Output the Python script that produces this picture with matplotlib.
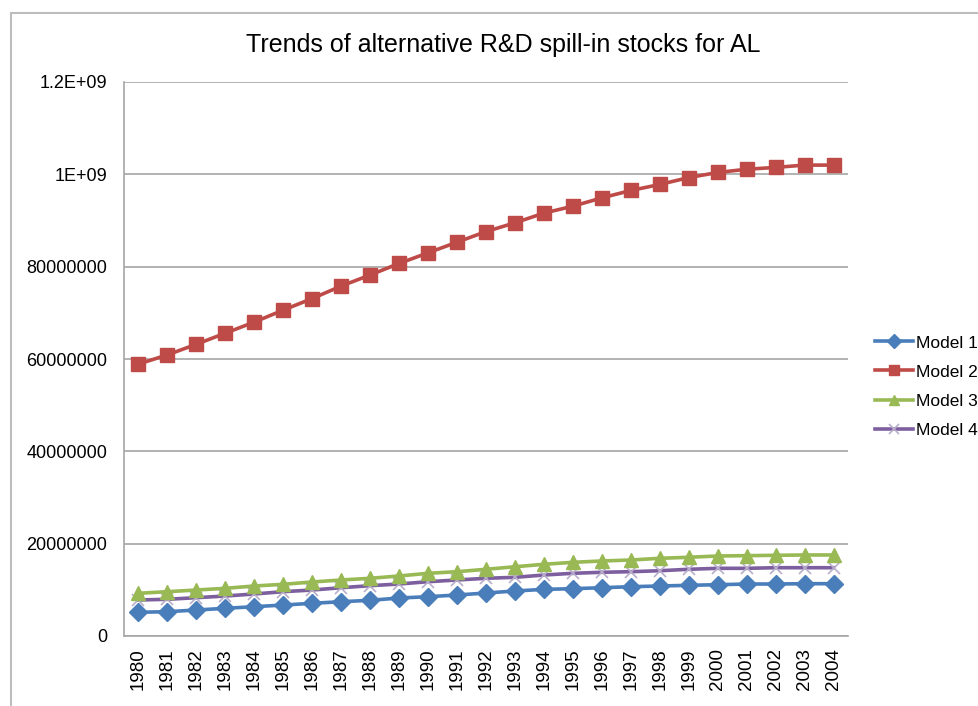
import matplotlib
matplotlib.use("Agg")
import matplotlib.pyplot as plt
from matplotlib.patches import Rectangle

years = [str(y) for y in range(1980, 2005)]

model1 = [5.13e7, 5.27e7, 5.63e7, 6.00e7, 6.35e7, 6.71e7, 7.08e7, 7.43e7, 7.73e7, 8.23e7,
          8.51e7, 8.88e7, 9.31e7, 9.75e7, 1.010e8, 1.025e8, 1.046e8, 1.068e8, 1.083e8, 1.098e8,
          1.111e8, 1.126e8, 1.126e8, 1.133e8, 1.133e8]
model2 = [5.89e8, 6.09e8, 6.32e8, 6.56e8, 6.80e8, 7.06e8, 7.31e8, 7.58e8, 7.82e8, 8.07e8,
          8.30e8, 8.53e8, 8.76e8, 8.95e8, 9.16e8, 9.31e8, 9.49e8, 9.65e8, 9.78e8, 9.93e8,
          1.004e9, 1.011e9, 1.015e9, 1.020e9, 1.020e9]
model3 = [9.25e7, 9.60e7, 9.96e7, 1.033e8, 1.083e8, 1.120e8, 1.170e8, 1.213e8, 1.250e8, 1.300e8,
          1.358e8, 1.393e8, 1.445e8, 1.500e8, 1.553e8, 1.596e8, 1.625e8, 1.646e8, 1.683e8, 1.705e8,
          1.733e8, 1.740e8, 1.748e8, 1.755e8, 1.755e8]
model4 = [7.80e7, 7.95e7, 8.30e7, 8.66e7, 9.10e7, 9.60e7, 9.96e7, 1.046e8, 1.090e8, 1.126e8,
          1.176e8, 1.213e8, 1.250e8, 1.271e8, 1.321e8, 1.358e8, 1.380e8, 1.393e8, 1.414e8, 1.445e8,
          1.466e8, 1.466e8, 1.479e8, 1.479e8, 1.479e8]

series_names = ["Model 1", "Model 2", "Model 3", "Model 4"]
ytick_values = [0, 2e8, 4e8, 6e8, 8e8, 1e9, 1.2e9]
ytick_labels = ["0", "20000000", "40000000", "60000000", "80000000", "1E+09", "1.2E+09"]
title = "Trends of alternative R&D spill-in stocks for AL"

plt.rcParams['font.family'] = ['Liberation Sans', 'DejaVu Sans']

fig = plt.figure(figsize=(9.79, 7.06), dpi=100)
fig.patch.set_facecolor('white')
fig.patches.append(Rectangle((11/979, -0.05), 1.2, 1 - 13/706 + 0.05, transform=fig.transFigure,
                             fill=False, edgecolor='#BDBDBD', linewidth=1.5, zorder=0))

ax = fig.add_axes([124/979, 1 - 636/706, (848 - 124)/979, (636 - 82)/706])
x = list(range(len(years)))

ax.plot(x, model1, color='#4A7EBB', lw=2.6, marker='D', ms=9, mec='#4A7EBB', mfc='#4A7EBB', label=series_names[0], zorder=3)
ax.plot(x, model2, color='#BE4B48', lw=2.6, marker='s', ms=10.5, mec='#BE4B48', mfc='#BE4B48', label=series_names[1], zorder=3)
ax.plot(x, model4, color='#7D5FA0', lw=2.6, marker='x', ms=9, mec='#B8AECB', mew=1.2, label=series_names[3], zorder=3)
ax.plot(x, model3, color='#98B954', lw=2.6, marker='^', ms=10.5, mec='#98B954', mfc='#98B954', label=series_names[2], zorder=4)

ax.set_xlim(-0.5, len(years) - 0.5)
ax.set_ylim(0, 1.2e9)
ax.set_yticks(ytick_values)
ax.set_yticklabels(ytick_labels, fontsize=13)
ax.set_xticks(x)
ax.set_xticklabels(years, rotation=90, fontsize=13.5)
ax.tick_params(axis='y', length=0, pad=12)
ax.tick_params(axis='x', length=0, pad=9)
ax.grid(axis='y', color='#A6A6A6', lw=1.2)
ax.set_axisbelow(True)
for s in ['top', 'right']:
    ax.spines[s].set_visible(False)
ax.spines['left'].set_color('#A6A6A6')
ax.spines['bottom'].set_color('#A6A6A6')
ax.spines['left'].set_linewidth(1.2)
ax.spines['bottom'].set_linewidth(1.2)

fig.text(503/979, 1 - 45/706, title, ha='center', va='center', fontsize=18)

handles, labels = ax.get_legend_handles_labels()
hmap = dict(zip(labels, handles))
leg = fig.legend([hmap[n] for n in series_names], series_names, loc='center left',
                 bbox_to_anchor=(875/979, 1 - 386.5/706), frameon=False, fontsize=12.5,
                 handlelength=2.2, handletextpad=0.15, labelspacing=0.8, markerscale=0.75,
                 borderpad=0, borderaxespad=0)

fig.savefig('out.png', dpi=100)
